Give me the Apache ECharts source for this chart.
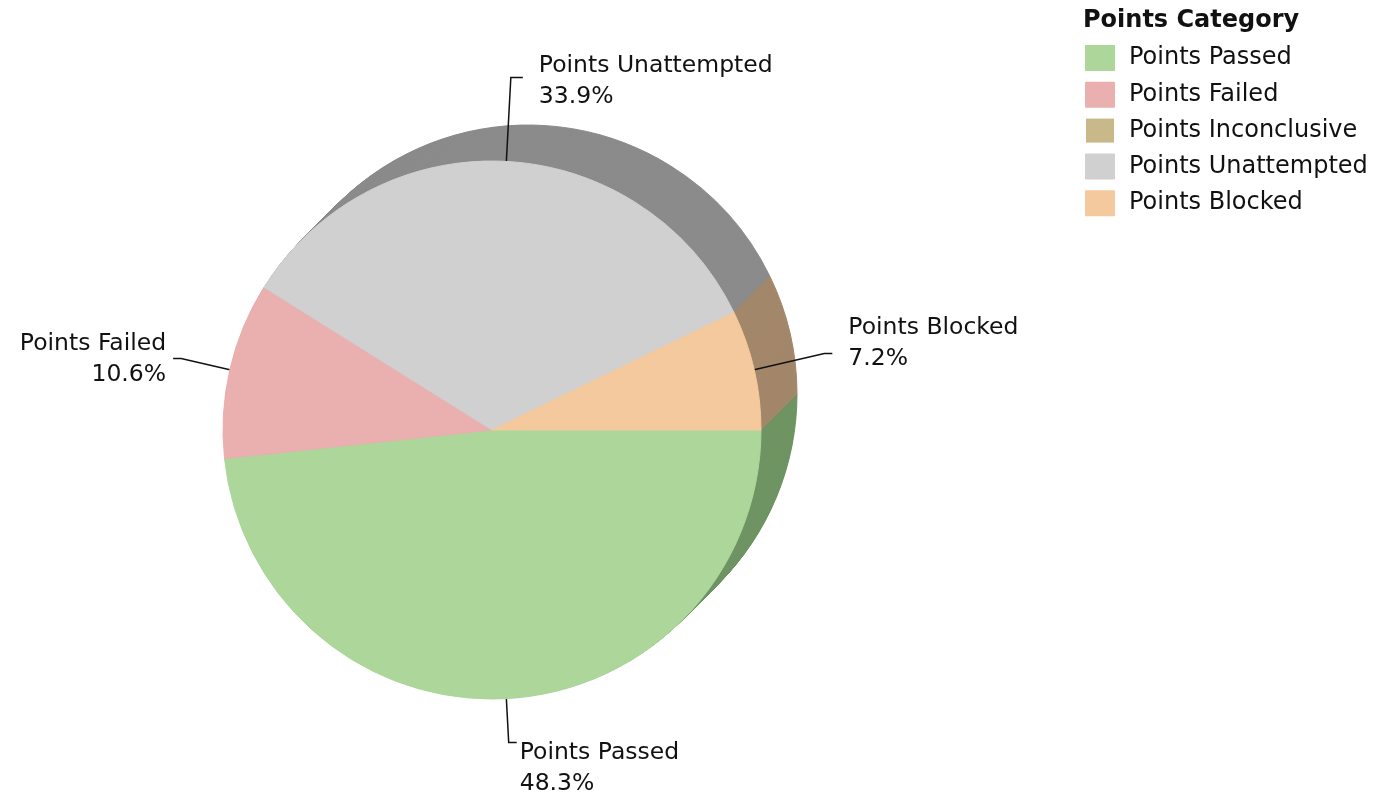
<!DOCTYPE html>
<html><head><meta charset="utf-8">
<script src="https://cdn.jsdelivr.net/npm/echarts@6/dist/echarts.min.js"></script>
<style>html,body{margin:0;padding:0;background:#fff}#chart{width:1376px;height:797px}</style>
</head><body><div id="chart"></div>
<script>
// ---- data ----
const categories = ['Points Passed', 'Points Failed', 'Points Inconclusive', 'Points Unattempted', 'Points Blocked'];
const values = [48.3, 10.6, 0, 33.9, 7.2];
const legendTitle = 'Points Category';

// ---- style ----
const colors = ['#acd69a', '#eaafaf', '#c9b98a', '#d0d0d0', '#f4c99e'];
const shadowColors = ['#6f9463', '#9a7474', '#857a5b', '#8b8b8b', '#a3876a'];
const FONT = 'DejaVu Sans';
const cx = 492, cy = 430, R = 269, depth = 36;

// gapTop / gapBottom shift the two text lines relative to the leader-line end
const labelTweaks = {
  'Points Passed': { length: 44, length2: 8, dist: 3, gapTop: 52, gapBottom: 0 },
  'Points Failed': { length: 50, length2: 8, dist: 7, gapTop: 2, gapBottom: 0 },
  'Points Unattempted': { length: 84, length2: 12, dist: 16, gapTop: 8, gapBottom: 0 },
  'Points Blocked': { length: 72, length2: 8, dist: 16, gapTop: 0, gapBottom: 20 }
};

const rich = { t: { fontFamily: FONT, fontSize: 23.5, lineHeight: 31, color: '#111' } };
Object.keys(labelTweaks).forEach((n, i) => {
  const t = labelTweaks[n];
  rich['gt' + i] = { fontSize: 1, lineHeight: Math.max(t.gapTop, 1) };
  rich['gb' + i] = { fontSize: 1, lineHeight: Math.max(t.gapBottom, 1) };
});

function labelText(p) {
  const names = Object.keys(labelTweaks);
  const i = names.indexOf(p.name);
  const t = labelTweaks[p.name];
  if (!t) return '';
  let s = '';
  if (t.gapTop > 0) s += '{gt' + i + '| }\n';
  s += '{t|' + p.name + '}\n{t|' + p.value + '%}';
  if (t.gapBottom > 0) s += '\n{gb' + i + '| }';
  return s;
}

const frontData = categories.map((n, i) => {
  const t = labelTweaks[n];
  const item = {
    name: n, value: values[i],
    itemStyle: { color: colors[i], borderColor: colors[i], borderWidth: values[i] > 0 ? 1 : 0 }
  };
  if (t) {
    item.label = { show: true, distanceToLabelLine: t.dist };
    item.labelLine = { show: true, length: t.length, length2: t.length2 };
  } else {
    item.label = { show: false };
    item.labelLine = { show: false };
  }
  return item;
});

const series = [{
  type: 'pie', z: 3, animation: false,
  center: [cx, cy], radius: R, startAngle: 0, clockwise: true,
  avoidLabelOverlap: false,
  emphasis: { disabled: true },
  label: {
    position: 'outside', formatter: labelText, rich: rich,
    fontFamily: FONT, fontSize: 23.5, lineHeight: 31, color: '#111'
  },
  labelLine: { lineStyle: { color: '#111', width: 1.5 } },
  data: frontData
}];

for (let k = depth; k >= 1; k--) {
  series.push({
    type: 'pie', z: 2, silent: true, animation: false, legendHoverLink: false,
    center: [cx + k, cy - k], radius: R, startAngle: 0, clockwise: true,
    emphasis: { disabled: true },
    label: { show: false }, labelLine: { show: false },
    data: categories.map((n, i) => ({
      name: n, value: values[i],
      itemStyle: { color: shadowColors[i], borderColor: shadowColors[i], borderWidth: values[i] > 0 ? 1 : 0 }
    }))
  });
}

const chart = echarts.init(document.getElementById('chart'), null, { renderer: 'canvas' });
chart.setOption({
  animation: false,
  backgroundColor: '#fff',
  title: {
    text: legendTitle, left: 1083, top: 9, padding: 0,
    textStyle: { fontFamily: FONT, fontWeight: 'bold', fontSize: 24, color: '#111' }
  },
  legend: {
    orient: 'vertical', left: 1085, top: 45, padding: 0,
    itemWidth: 28, itemHeight: 24, itemGap: 10.8, icon: 'rect',
    selectedMode: false,
    data: categories,
    textStyle: { fontFamily: FONT, fontSize: 24, lineHeight: 24, color: '#111', padding: [0, 0, 0, 10] }
  },
  series: series
});
</script>
</body></html>
